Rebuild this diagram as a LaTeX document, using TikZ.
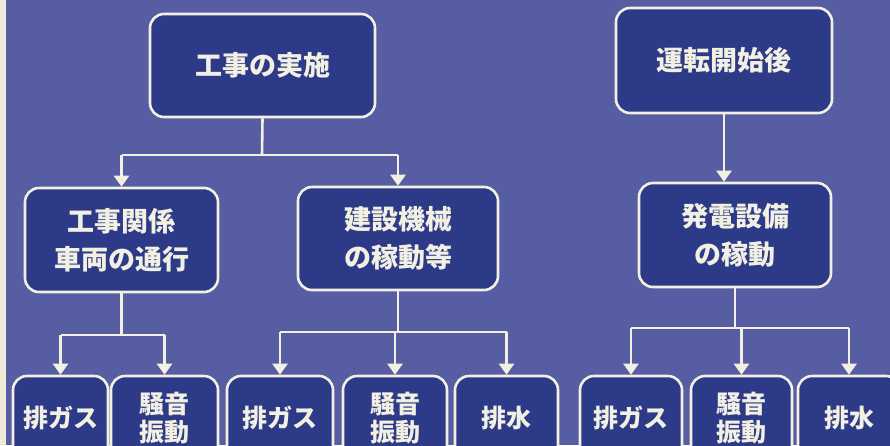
\documentclass[tikz,border=0pt]{standalone}
\usepackage{fontspec}
\newfontfamily\jp{Noto Sans CJK JP}
\usetikzlibrary{arrows.meta}
\definecolor{bgc}{RGB}{86,93,162}
\definecolor{boxc}{RGB}{44,58,136}
\definecolor{linec}{RGB}{242,240,226}
\definecolor{stripc}{RGB}{238,234,218}
\tikzset{
  box/.style={draw=linec, line width=2.6pt, fill=boxc, rounded corners=14pt,
    text=linec, align=center, inner sep=0pt, font=\jp\bfseries\fontsize{27}{38}\selectfont},
  smallbox/.style={box, font=\jp\bfseries\fontsize{25}{28}\selectfont},
  conn/.style={draw=linec, line width=2.6pt},
  arr/.style={conn, -{Triangle[width=15pt,length=11pt]}}
}
\begin{document}
\begin{tikzpicture}[x=1pt,y=-1pt]
\useasboundingbox (0,0) rectangle (890,445);
\fill[bgc] (0,0) rectangle (890,445);
\fill[stripc] (0,0) rectangle (6,445);
% top row
\node[box, minimum width=225pt, minimum height=103pt] (top1) at (262.5,65.5) {工事の実施};
\node[box, minimum width=216pt, minimum height=105pt] (top2) at (724,60.5) {運転開始後};
% middle row
\node[box, minimum width=193pt, minimum height=104pt] (mid1) at (121.5,240) {工事関係\\車両の通行};
\node[box, minimum width=200pt, minimum height=103pt] (mid2) at (398,238.5) {建設機械\\の稼動等};
\node[box, minimum width=192pt, minimum height=104pt] (mid3) at (735,235) {発電設備\\の稼動};
% bottom row
\node[smallbox, minimum width=95pt, minimum height=84pt] (b1) at (60.5,418) {排ガス};
\node[smallbox, minimum width=107pt, minimum height=84pt] (b2) at (164.5,418) {騒音\\振動};
\node[smallbox, minimum width=106pt, minimum height=84pt] (b3) at (280,418) {排ガス};
\node[smallbox, minimum width=104pt, minimum height=84pt] (b4) at (395,418) {騒音\\振動};
\node[smallbox, minimum width=103pt, minimum height=84pt] (b5) at (506.5,418) {排水};
\node[smallbox, minimum width=102pt, minimum height=84pt] (b6) at (631,418) {排ガス};
\node[smallbox, minimum width=101pt, minimum height=84pt] (b7) at (741.5,418) {騒音\\振動};
\node[smallbox, minimum width=102pt, minimum height=84pt] (b8) at (849,418) {排水};
% connectors: top1 -> mid1, mid2
\coordinate (j1) at (262,155);
\draw[conn] (top1.south) -- (j1);
\draw[conn] (j1 -| mid1.north) -- (j1 -| mid2.north);
\draw[arr] (j1 -| mid1.north) -- (mid1.north);
\draw[arr] (j1 -| mid2.north) -- (mid2.north);
% top2 -> mid3
\draw[arr] (top2.south) -- (top2.south |- mid3.north);
% mid1 -> b1, b2
\coordinate (j2) at (121.5,335);
\draw[conn] (mid1.south) -- (j2);
\draw[conn] (j2 -| b1.north) -- (j2 -| b2.north);
\draw[arr] (j2 -| b1.north) -- (b1.north);
\draw[arr] (j2 -| b2.north) -- (b2.north);
% mid2 -> b3, b4, b5
\coordinate (j3) at (398,332);
\draw[conn] (mid2.south) -- (j3);
\draw[conn] (j3 -| b3.north) -- (j3 -| b5.north);
\draw[arr] (j3 -| b3.north) -- (b3.north);
\draw[arr] (j3 -| b4.north) -- (b4.north);
\draw[arr] (j3 -| b5.north) -- (b5.north);
% mid3 -> b6, b7, b8
\coordinate (j4) at (735,328);
\draw[conn] (mid3.south) -- (j4);
\draw[conn] (j4 -| b6.north) -- (j4 -| b8.north);
\draw[arr] (j4 -| b6.north) -- (b6.north);
\draw[arr] (j4 -| b7.north) -- (b7.north);
\draw[arr] (j4 -| b8.north) -- (b8.north);
\end{tikzpicture}
\end{document}
